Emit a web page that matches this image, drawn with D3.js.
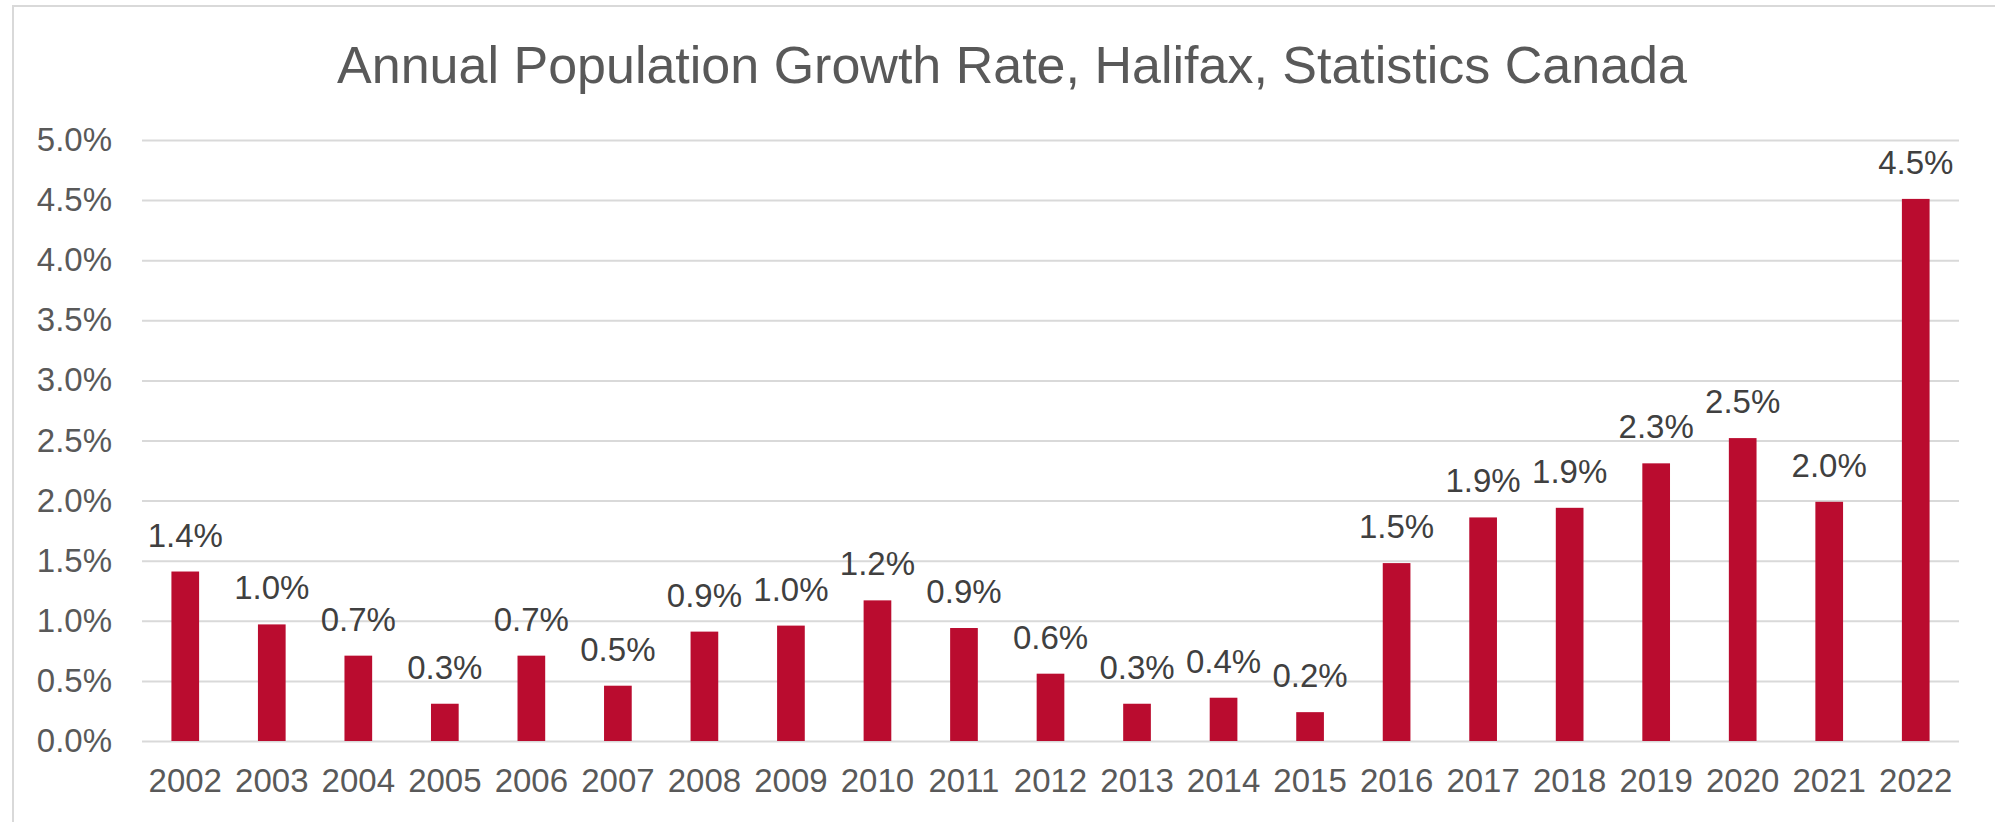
<!DOCTYPE html>
<html>
<head>
<meta charset="utf-8">
<script src="https://cdn.jsdelivr.net/npm/d3@7"></script>
<style>
  body { margin: 0; background: #fff; }
  svg { display: block; font-family: "Liberation Sans", Arial, sans-serif; }
</style>
</head>
<body>
<script>
// Annual population growth rate (%), Halifax
var years = ["2002","2003","2004","2005","2006","2007","2008","2009","2010","2011","2012",
             "2013","2014","2015","2016","2017","2018","2019","2020","2021","2022"];
var growth = [1.41, 0.97, 0.71, 0.31, 0.71, 0.46, 0.91, 0.96, 1.17, 0.94, 0.56,
              0.31, 0.36, 0.24, 1.48, 1.86, 1.94, 2.31, 2.52, 1.99, 4.51];
var yTicks = [0, 0.5, 1, 1.5, 2, 2.5, 3, 3.5, 4, 4.5, 5];

var W = 1995, H = 822;
var margin = {top: 140, right: 36, bottom: 81, left: 142},
    width = W - margin.left - margin.right,
    height = H - margin.top - margin.bottom;

var svg = d3.select("body").append("svg")
  .attr("width", W)
  .attr("height", H);

// outer frame
svg.append("rect")
  .attr("x", 13).attr("y", 6)
  .attr("width", 2000).attr("height", 900)
  .attr("fill", "none")
  .attr("stroke", "#d9d9d9")
  .attr("stroke-width", 2);

svg.append("text")
  .attr("x", 1012)
  .attr("y", 83)
  .attr("text-anchor", "middle")
  .attr("fill", "#595959")
  .style("font-size", "52px")
  .text("Annual Population Growth Rate, Halifax, Statistics Canada");

var main = svg.append("g")
  .attr("transform", "translate(" + margin.left + "," + margin.top + ")");

var x = d3.scaleBand()
  .domain(years)
  .range([0, width])
  .paddingInner(0.68)
  .paddingOuter(0.34);

var y = d3.scaleLinear()
  .domain([0, 5])
  .range([height, 0]);

// y axis + gridlines
var yAxis = main.append("g")
  .call(d3.axisLeft(y)
    .tickValues(yTicks)
    .tickSize(-width)
    .tickPadding(30)
    .tickFormat(function(d) { return d.toFixed(1) + "%"; }));
yAxis.select(".domain").remove();
yAxis.selectAll("line").attr("stroke", "#d9d9d9").attr("stroke-width", 2);
yAxis.selectAll("text")
  .attr("fill", "#595959")
  .style("font-size", "33px")
  .style("font-family", "Liberation Sans, Arial, sans-serif");

// x axis
var xAxis = main.append("g")
  .attr("transform", "translate(0," + height + ")")
  .call(d3.axisBottom(x).tickSize(0).tickPadding(28));
xAxis.select(".domain").remove();
xAxis.selectAll("text")
  .attr("fill", "#595959")
  .style("font-size", "33px")
  .style("font-family", "Liberation Sans, Arial, sans-serif");

// bars
main.selectAll(".bar")
  .data(growth)
  .enter().append("rect")
  .attr("class", "bar")
  .attr("x", function(d, i) { return x(years[i]); })
  .attr("y", function(d) { return y(d); })
  .attr("width", x.bandwidth())
  .attr("height", function(d) { return height - y(d); })
  .attr("fill", "#ba0c2f");

// value labels
main.selectAll(".lbl")
  .data(growth)
  .enter().append("text")
  .attr("class", "lbl")
  .attr("x", function(d, i) { return x(years[i]) + x.bandwidth() / 2; })
  .attr("y", function(d) { return y(d) - 25; })
  .attr("text-anchor", "middle")
  .attr("fill", "#404040")
  .style("font-size", "33px")
  .text(function(d) { return d.toFixed(1) + "%"; });
</script>
</body>
</html>
